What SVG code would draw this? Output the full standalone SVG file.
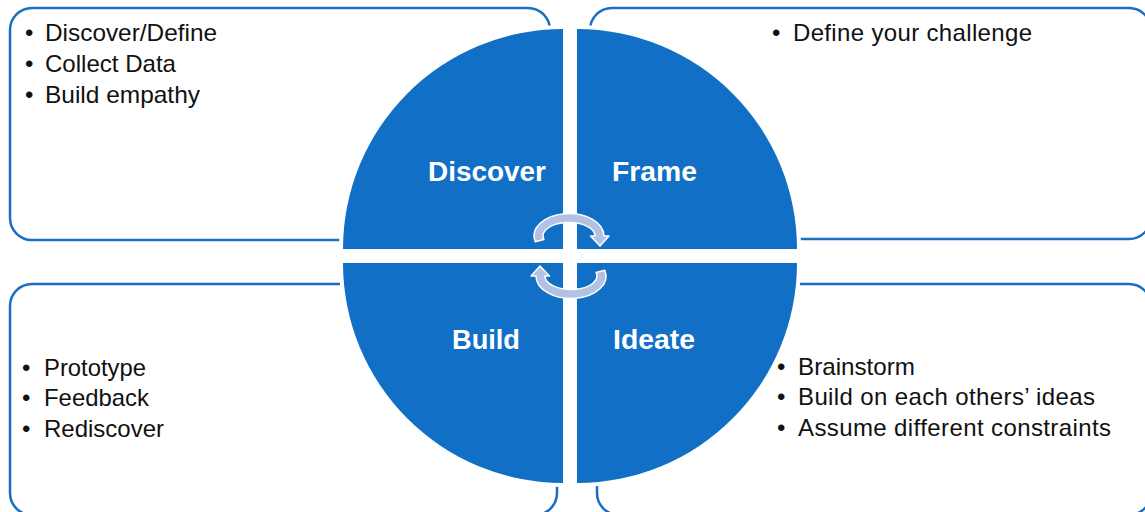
<svg xmlns="http://www.w3.org/2000/svg" width="1145" height="512" viewBox="0 0 1145 512">
  <style>
    .box { fill: none; stroke: #1a6fc2; stroke-width: 2.5; }
    .quad { fill: #1170c6; stroke: #ffffff; stroke-width: 8; paint-order: stroke; }
    .qlabel { font-family: "Liberation Sans", Arial, sans-serif; font-weight: bold; font-size: 27px; fill: #ffffff; }
    .item { font-family: "Liberation Sans", Arial, sans-serif; font-size: 24px; fill: #111111; }
    .arrow { fill: #b3c1e5; stroke: #ffffff; stroke-width: 1.5; stroke-linejoin: round; }
  </style>
  <defs>
    <path id="cyc" d="M535.2,241.8 A35,22.5 0 1 1 604,236 L609,236 L600,246 L590.5,236 L595,236 A26,13.5 0 1 0 543.9,239.5 Z"/>
  </defs>
  <rect width="1145" height="512" fill="#ffffff"/>

  <g id="box-discover">
    <rect class="box" x="10" y="8" width="540" height="232" rx="22" ry="22"/>
    <text class="item" x="25" y="41">•</text>
    <text class="item" x="45" y="41" textLength="172" lengthAdjust="spacingAndGlyphs">Discover/Define</text>
    <text class="item" x="25" y="72">•</text>
    <text class="item" x="45" y="72" textLength="131" lengthAdjust="spacingAndGlyphs">Collect Data</text>
    <text class="item" x="25" y="103">•</text>
    <text class="item" x="45" y="103" textLength="155" lengthAdjust="spacingAndGlyphs">Build empathy</text>
  </g>

  <g id="box-frame">
    <rect class="box" x="590" y="8" width="561" height="231" rx="22" ry="22"/>
    <text class="item" x="772" y="41">•</text>
    <text class="item" x="793" y="41" textLength="239" lengthAdjust="spacing">Define your challenge</text>
  </g>

  <g id="box-build">
    <rect class="box" x="10" y="284" width="547" height="231" rx="22" ry="22"/>
    <text class="item" x="22" y="376">•</text>
    <text class="item" x="44" y="376" textLength="102" lengthAdjust="spacingAndGlyphs">Prototype</text>
    <text class="item" x="22" y="406">•</text>
    <text class="item" x="44" y="406" textLength="105" lengthAdjust="spacingAndGlyphs">Feedback</text>
    <text class="item" x="22" y="437">•</text>
    <text class="item" x="44" y="437" textLength="120" lengthAdjust="spacingAndGlyphs">Rediscover</text>
  </g>

  <g id="box-ideate">
    <rect class="box" x="597" y="284" width="554" height="231" rx="22" ry="22"/>
    <text class="item" x="777" y="375">•</text>
    <text class="item" x="798" y="375" textLength="117" lengthAdjust="spacingAndGlyphs">Brainstorm</text>
    <text class="item" x="777" y="405">•</text>
    <text class="item" x="798" y="405" textLength="297" lengthAdjust="spacing">Build on each others’ ideas</text>
    <text class="item" x="777" y="436">•</text>
    <text class="item" x="798" y="436" textLength="313" lengthAdjust="spacing">Assume different constraints</text>
  </g>

  <g id="quad-discover">
    <path class="quad" d="M563,249 L343,249 A220,220 0 0 1 563,29 Z"/>
    <text class="qlabel" x="428" y="181" textLength="118" lengthAdjust="spacingAndGlyphs">Discover</text>
  </g>
  <g id="quad-frame">
    <path class="quad" d="M577,249 L577,29 A220,220 0 0 1 797,249 Z"/>
    <text class="qlabel" x="612" y="181" textLength="85" lengthAdjust="spacingAndGlyphs">Frame</text>
  </g>
  <g id="quad-build">
    <path class="quad" d="M563,263 L563,483 A220,220 0 0 1 343,263 Z"/>
    <text class="qlabel" x="452" y="349" textLength="68" lengthAdjust="spacingAndGlyphs">Build</text>
  </g>
  <g id="quad-ideate">
    <path class="quad" d="M577,263 L797,263 A220,220 0 0 1 577,483 Z"/>
    <text class="qlabel" x="613" y="349" textLength="82" lengthAdjust="spacingAndGlyphs">Ideate</text>
  </g>

  <g id="connectors">
    <use href="#cyc" class="arrow"/>
    <use href="#cyc" class="arrow" transform="rotate(180 570 256)"/>
  </g>
</svg>
